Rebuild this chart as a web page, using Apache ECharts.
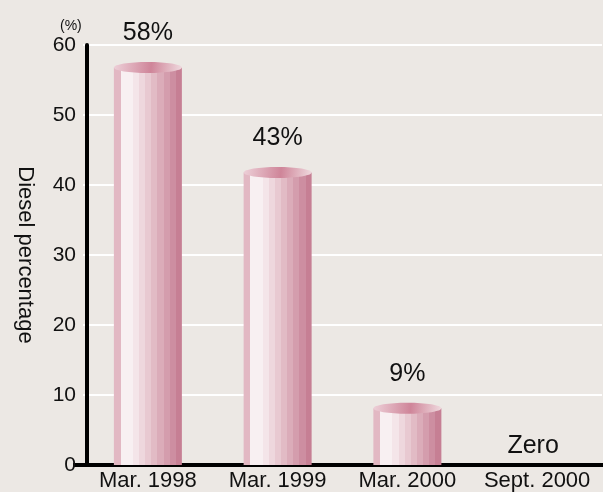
<!DOCTYPE html>
<html>
<head>
<meta charset="utf-8">
<script src="https://cdn.jsdelivr.net/npm/echarts@6/dist/echarts.min.js"></script>
<style>
html, body { margin: 0; padding: 0; background: #ece8e4; }
#chart { width: 603px; height: 492px; }
</style>
</head>
<body>
<div id="chart"></div>
<script>
var categories = ['Mar. 1998', 'Mar. 1999', 'Mar. 2000', 'Sept. 2000'];
var dieselValues = [56.8, 41.8, 8.1, 0];
var valueLabels = ['58%', '43%', '9%', 'Zero'];
var yTicks = [0, 10, 20, 30, 40, 50, 60];

var FONT = 'Liberation Sans, Arial, sans-serif';

// side of the cylinder: stepped bands, dark-white-dark
var sideBands = ['#e2b8c3', '#f8f0f2', '#f4e5e9', '#eed7dd', '#e8c9d1', '#e2bbc5', '#dbacb9', '#d49dad', '#cd8ea1', '#c67f94'];
var bw = [0.10, 0.18, 0.09, 0.09, 0.09, 0.09, 0.09, 0.09, 0.09, 0.09];
var sideStops = [];
var acc = 0;
for (var k = 0; k < sideBands.length; k++) {
  sideStops.push({ offset: acc, color: sideBands[k] });
  acc += bw[k];
  sideStops.push({ offset: Math.min(acc, 1), color: sideBands[k] });
}
var sideGrad = new echarts.graphic.LinearGradient(0, 0, 1, 0, sideStops);
var topGrad = new echarts.graphic.LinearGradient(0, 0, 1, 0.6, [
  { offset: 0, color: '#edd0d8' },
  { offset: 0.55, color: '#cf8599' },
  { offset: 1, color: '#efd9de' }
]);

function renderCylinder(params, api) {
  var i = api.value(0), v = api.value(1);
  var top = api.coord([i, v]);
  var base = api.coord([i, 0]);
  var w = 68, ry = 5.5;
  var children = [];
  if (v > 0) {
    children.push({
      type: 'rect',
      shape: { x: top[0] - w / 2, y: top[1], width: w, height: base[1] - top[1] },
      style: { fill: sideGrad }
    });
    children.push({
      type: 'ellipse',
      shape: { cx: top[0], cy: top[1], rx: w / 2, ry: ry },
      style: { fill: topGrad }
    });
  }
  children.push({
    type: 'text',
    style: {
      text: valueLabels[i],
      x: top[0] + (v > 0 ? 0 : -4),
      y: top[1] - (v > 0 ? 34 : 19),
      align: 'center',
      verticalAlign: 'middle',
      fontSize: 25,
      fontFamily: FONT,
      fill: '#111'
    }
  });
  return { type: 'group', children: children };
}

var chart = echarts.init(document.getElementById('chart'));
chart.setOption({
  backgroundColor: '#ece8e4',
  animation: false,
  title: {
    text: '(%)',
    left: 55, top: 14,
    textStyle: { fontSize: 14, fontWeight: 'normal', color: '#111', fontFamily: FONT }
  },
  grid: { left: 83, right: 1, top: 45, bottom: 27 },
  xAxis: {
    type: 'category',
    data: categories,
    axisLine: { lineStyle: { color: '#000', width: 4 } },
    axisTick: { show: false },
    axisLabel: { fontSize: 22, color: '#111', margin: 5, fontFamily: FONT, interval: 0 }
  },
  yAxis: {
    type: 'value',
    min: yTicks[0], max: yTicks[yTicks.length - 1], interval: 10,
    offset: -4,
    name: 'Diesel percentage',
    nameLocation: 'middle',
    nameRotate: -90,
    nameGap: 51,
    nameTextStyle: { fontSize: 22, color: '#111', fontFamily: FONT },
    axisLine: { show: true, lineStyle: { color: '#000', width: 4 } },
    axisTick: { show: false },
    axisLabel: { fontSize: 21, color: '#111', margin: 11, fontFamily: FONT },
    splitLine: { lineStyle: { color: '#ffffff', width: 2 } }
  },
  graphic: [{
    type: 'rect',
    shape: { x: 73, y: 463, width: 12, height: 4 },
    style: { fill: '#000' }
  }, {
    type: 'rect',
    shape: { x: 600, y: 463, width: 3, height: 4 },
    style: { fill: '#000' }
  }],
  series: [{
    type: 'custom',
    renderItem: renderCylinder,
    data: dieselValues.map(function (v, i) { return [i, v]; }),
    z: 3
  }]
});
</script>
</body>
</html>
